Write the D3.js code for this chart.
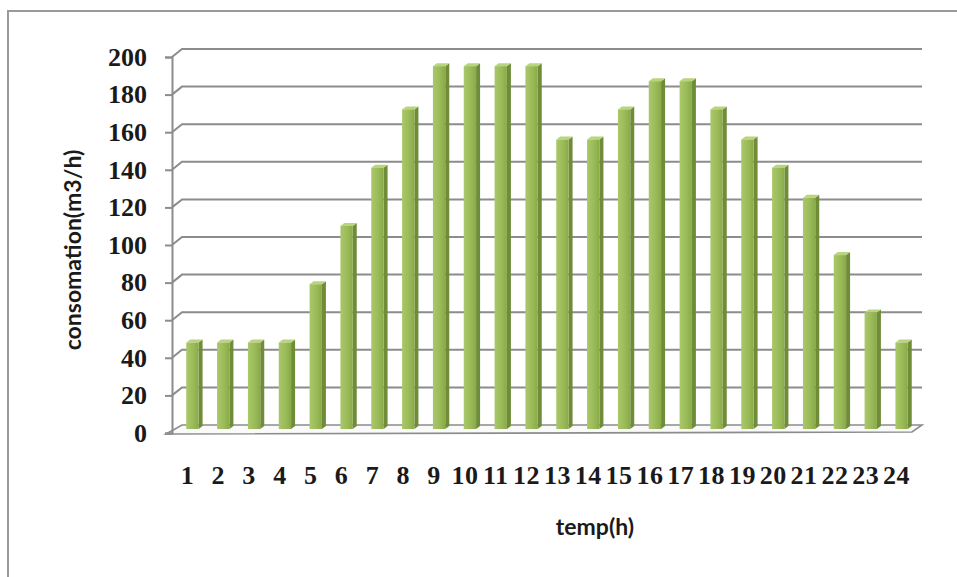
<!DOCTYPE html>
<html>
<head>
<meta charset="utf-8">
<script src="https://cdn.jsdelivr.net/npm/d3@7"></script>
<style>
  body { margin: 0; background: #fff; }
  svg { display: block; }
</style>
</head>
<body>
<div class="chart"></div>
<script>
var width = 957, height = 577;

// data
var hours = ['1','2','3','4','5','6','7','8','9','10','11','12',
             '13','14','15','16','17','18','19','20','21','22','23','24'];
var consumption = [46, 46, 46, 46, 77, 108, 139, 170, 193, 193, 193, 193,
                   154, 154, 170, 185, 185, 170, 154, 139, 123, 92.5, 62, 46];
var yTicks = [0, 20, 40, 60, 80, 100, 120, 140, 160, 180, 200];

var yTitle = 'consomation(m3/h)';
var xTitle = 'temp(h)';

// 3d look: back wall is shifted from the front plane
var depth = { dx: 10, dy: -8 };
var barShift = { dx: 5, dy: -4 };
var barDepth = { dx: 4, dy: -3 };

var svg = d3.select('.chart')
	.append('svg')
	.attr('width', width)
	.attr('height', height);

var x = d3.scaleBand()
	.domain(hours)
	.range([172, 912])
	.paddingInner(0.6)
	.paddingOuter(0.3);

var y = d3.scaleLinear()
	.domain([0, 200])
	.range([433, 57]);

var grid = '#8c8c8c';

// outer frame
svg.append('path')
	.attr('d', 'M8,' + height + 'V11H' + width)
	.attr('fill', 'none')
	.attr('stroke', '#9a9a9a')
	.attr('stroke-width', 2);

// floor
var x0 = x.range()[0], x1 = x.range()[1];
svg.append('path')
	.attr('d', 'M' + (x0 - 6) + ',' + (y(0) + 1) +
		'L' + x1 + ',' + (y(0) - 1) +
		'L' + (x1 + depth.dx) + ',' + (y(0) + depth.dy) +
		'L' + (x0 + depth.dx) + ',' + (y(0) + depth.dy) + 'Z')
	.attr('fill', '#fafafa')
	.attr('stroke', grid)
	.attr('stroke-width', 1.6);

// back wall gridlines and side wall diagonals
var gridG = svg.append('g').attr('class', 'grid');
gridG.selectAll('.gl')
	.data(yTicks.filter(function(d) { return d > 0; }))
	.enter().append('path')
	.attr('class', 'gl')
	.attr('d', function(d) {
		return 'M' + x0 + ',' + y(d) +
			'L' + (x0 + depth.dx) + ',' + (y(d) + depth.dy) +
			'H' + (x1 + depth.dx);
	})
	.attr('fill', 'none')
	.attr('stroke', grid)
	.attr('stroke-width', 2);

// value axis
var yAxis = d3.axisLeft(y)
	.tickValues(yTicks)
	.tickSize(7)
	.tickPadding(18);

var yAxisG = svg.append('g')
	.attr('transform', 'translate(' + x0 + ',0)')
	.call(yAxis);
yAxisG.select('.domain').attr('stroke', grid).attr('stroke-width', 2);
yAxisG.selectAll('.tick line').attr('stroke', grid).attr('stroke-width', 2);
yAxisG.selectAll('text')
	.attr('fill', '#1a1a1a')
	.style('font', 'bold 26px "Liberation Serif", serif');

// bars
var gradient = svg.append('defs').append('linearGradient')
	.attr('id', 'front')
	.attr('x1', '0%').attr('x2', '100%');
gradient.append('stop').attr('offset', '0%').attr('stop-color', '#a9c86a');
gradient.append('stop').attr('offset', '55%').attr('stop-color', '#9bbb59');
gradient.append('stop').attr('offset', '100%').attr('stop-color', '#8aaa4a');

var bars = svg.append('g')
	.attr('class', 'bars')
	.selectAll('.bar')
	.data(consumption)
	.enter().append('g')
	.attr('class', 'bar')
	.attr('transform', function(d, i) {
		return 'translate(' + (x(hours[i]) + barShift.dx) + ',' + barShift.dy + ')';
	});

var bw = x.bandwidth();

bars.append('path')
	.attr('d', function(d) {
		return 'M' + bw + ',' + y(0) + 'V' + y(d) +
			'l' + barDepth.dx + ',' + barDepth.dy +
			'V' + (y(0) + barDepth.dy) + 'Z';
	})
	.attr('fill', '#6f8c38');

bars.append('path')
	.attr('d', function(d) {
		return 'M0,' + y(d) + 'H' + bw +
			'l' + barDepth.dx + ',' + barDepth.dy +
			'h' + (-bw) + 'Z';
	})
	.attr('fill', '#b8d57e');

bars.append('rect')
	.attr('x', 0)
	.attr('y', function(d) { return y(d); })
	.attr('width', bw)
	.attr('height', function(d) { return y(0) - y(d); })
	.attr('fill', 'url(#front)');

// category labels
var xAxis = d3.axisBottom(x).tickSize(0);
var xAxisG = svg.append('g')
	.attr('transform', 'translate(0,475)')
	.call(xAxis);
xAxisG.select('.domain').remove();
xAxisG.selectAll('text')
	.attr('y', 0)
	.attr('dy', '0.35em')
	.attr('fill', '#1a1a1a')
	.style('font', 'bold 26px "Liberation Serif", serif')
	.style('letter-spacing', '0.5px');

// titles
svg.append('text')
	.attr('x', 595)
	.attr('y', 527)
	.attr('dy', '0.35em')
	.attr('text-anchor', 'middle')
	.attr('fill', '#1a1a1a')
	.style('font', 'bold 23px Lato, sans-serif')
	.text(xTitle);

svg.append('text')
	.attr('transform', 'translate(73,250) rotate(-90)')
	.attr('dy', '0.35em')
	.attr('text-anchor', 'middle')
	.attr('fill', '#1a1a1a')
	.style('font', 'bold 23px Lato, sans-serif')
	.text(yTitle);
</script>
</body>
</html>
